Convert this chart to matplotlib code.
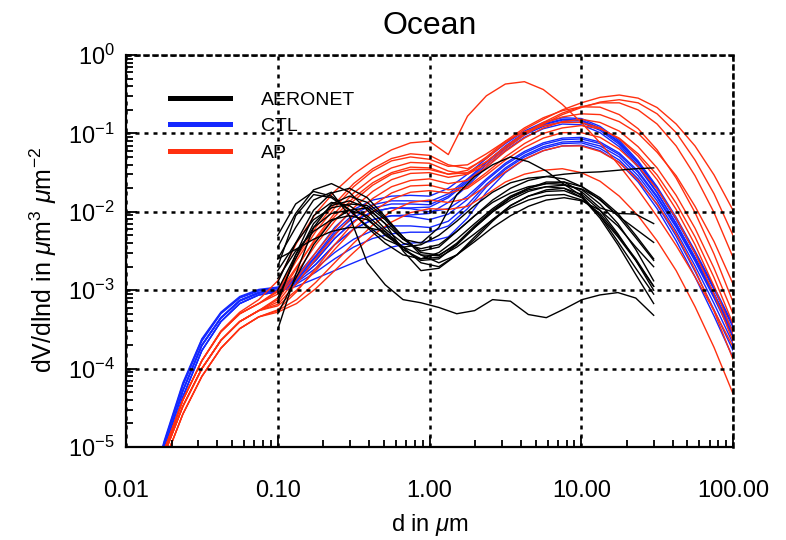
import numpy as np
import matplotlib
matplotlib.use("Agg")
import matplotlib.pyplot as plt
from matplotlib.lines import Line2D

plt.rcParams['font.family'] = ['Liberation Sans', 'DejaVu Sans']
plt.rcParams['mathtext.fontset'] = 'custom'
plt.rcParams['mathtext.rm'] = 'Liberation Sans'
plt.rcParams['mathtext.it'] = 'Liberation Sans:italic'

# model size bins: diameters in um, 1/8 decade apart
d_model = [0.01, 0.0133, 0.0178, 0.0237, 0.0316, 0.0422, 0.0562, 0.075,
           0.1, 0.133, 0.178, 0.237, 0.316, 0.422, 0.562, 0.75,
           1.0, 1.33, 1.78, 2.37, 3.16, 4.22, 5.62, 7.5,
           10.0, 13.3, 17.8, 23.7, 31.6, 42.2, 56.2, 75.0, 100.0]

# CTL run, log10(dV/dlnd) at d_model
ctl_log = [
    [-6.9, -5.85, -4.93, -4.18, -3.62, -3.28, -3.08, -2.99, -2.96, -2.82, -2.52, -2.20, -1.97, -1.85, -1.80, -1.79, -1.80,
     -1.70, -1.52, -1.32, -1.13, -0.97, -0.86, -0.80, -0.81, -0.91, -1.09, -1.35, -1.68, -2.07, -2.50, -2.96, -3.44],
    [-6.9, -5.86, -4.95, -4.20, -3.63, -3.29, -3.09, -3.00, -2.97, -2.84, -2.56, -2.25, -2.03, -1.91, -1.86, -1.86, -1.87,
     -1.77, -1.58, -1.37, -1.17, -1.00, -0.89, -0.83, -0.84, -0.94, -1.12, -1.38, -1.71, -2.10, -2.53, -2.99, -3.47],
    [-7.0, -5.95, -5.03, -4.28, -3.70, -3.35, -3.13, -3.03, -3.00, -2.86, -2.62, -2.34, -2.12, -2.00, -1.95, -1.95, -1.94,
     -1.82, -1.62, -1.40, -1.19, -1.02, -0.91, -0.85, -0.86, -0.96, -1.14, -1.41, -1.75, -2.15, -2.59, -3.06, -3.55],
    [-7.0, -5.95, -5.03, -4.28, -3.70, -3.35, -3.13, -3.03, -3.00, -2.88, -2.67, -2.42, -2.22, -2.10, -2.05, -2.04, -2.02,
     -1.88, -1.67, -1.43, -1.22, -1.05, -0.94, -0.88, -0.89, -0.99, -1.17, -1.43, -1.76, -2.15, -2.58, -3.04, -3.52],
    [-6.95, -5.9, -4.98, -4.22, -3.65, -3.30, -3.10, -3.01, -2.98, -2.85, -2.58, -2.28, -2.07, -1.95, -1.90, -1.90, -1.91,
     -1.80, -1.60, -1.37, -1.16, -0.99, -0.88, -0.82, -0.83, -0.93, -1.11, -1.37, -1.70, -2.09, -2.52, -2.98, -3.46],
    [-7.0, -5.95, -5.03, -4.28, -3.70, -3.35, -3.13, -3.03, -3.00, -2.88, -2.67, -2.42, -2.22, -2.10, -2.05, -2.06, -2.10,
     -2.03, -1.84, -1.60, -1.40, -1.25, -1.14, -1.08, -1.07, -1.13, -1.27, -1.50, -1.82, -2.20, -2.63, -3.10, -3.60],
    [-7.1, -6.05, -5.12, -4.36, -3.77, -3.40, -3.17, -3.06, -3.02, -2.90, -2.72, -2.52, -2.35, -2.24, -2.18, -2.18, -2.20,
     -2.12, -1.91, -1.65, -1.44, -1.28, -1.17, -1.11, -1.10, -1.16, -1.30, -1.54, -1.86, -2.25, -2.69, -3.17, -3.68],
    [-7.0, -5.96, -5.04, -4.29, -3.71, -3.36, -3.14, -3.04, -3.01, -2.86, -2.62, -2.34, -2.12, -2.00, -1.95, -1.96, -2.00,
     -1.96, -1.80, -1.58, -1.38, -1.23, -1.12, -1.06, -1.05, -1.11, -1.25, -1.48, -1.80, -2.18, -2.61, -3.08, -3.58],
    [-7.1, -6.05, -5.12, -4.36, -3.77, -3.40, -3.17, -3.06, -3.02, -2.92, -2.77, -2.60, -2.45, -2.34, -2.28, -2.26, -2.26,
     -2.18, -1.96, -1.68, -1.46, -1.30, -1.19, -1.13, -1.12, -1.19, -1.34, -1.58, -1.91, -2.31, -2.76, -3.25, -3.77],
    [-7.1, -6.05, -5.12, -4.36, -3.77, -3.40, -3.17, -3.06, -3.02, -2.95, -2.85, -2.75, -2.65, -2.55, -2.45, -2.40, -2.38,
     -2.32, -2.08, -1.75, -1.50, -1.33, -1.22, -1.16, -1.15, -1.22, -1.37, -1.62, -1.96, -2.37, -2.83, -3.33, -3.86],
]

# AP run, log10(dV/dlnd) at d_model
ap_log = [
    [-6.7, -5.85, -5.05, -4.40, -3.90, -3.52, -3.28, -3.12, -2.88, -2.40, -2.02, -1.74, -1.52, -1.35, -1.21, -1.12, -1.10,
     -1.27, -0.78, -0.52, -0.37, -0.34, -0.44, -0.63, -0.86, -1.12, -1.41, -1.72, -2.06, -2.43, -2.83, -3.26, -3.72],
    [-6.7, -5.85, -5.05, -4.40, -3.90, -3.53, -3.30, -3.17, -3.00, -2.58, -2.20, -1.90, -1.64, -1.45, -1.32, -1.26, -1.28,
     -1.40, -1.45, -1.32, -1.12, -0.95, -0.82, -0.70, -0.61, -0.54, -0.51, -0.55, -0.67, -0.88, -1.16, -1.53, -1.98],
    [-6.8, -5.9, -5.1, -4.48, -4.0, -3.64, -3.40, -3.26, -3.10, -2.72, -2.33, -2.02, -1.76, -1.57, -1.44, -1.37, -1.38,
     -1.48, -1.52, -1.40, -1.20, -1.02, -0.88, -0.76, -0.67, -0.60, -0.57, -0.61, -0.75, -0.99, -1.34, -1.77, -2.30],
    [-6.7, -5.85, -5.05, -4.40, -3.90, -3.53, -3.30, -3.17, -3.05, -2.70, -2.35, -2.06, -1.82, -1.63, -1.50, -1.43, -1.44,
     -1.52, -1.50, -1.36, -1.17, -1.00, -0.86, -0.74, -0.66, -0.61, -0.61, -0.70, -0.88, -1.16, -1.54, -2.01, -2.58],
    [-6.8, -5.9, -5.1, -4.48, -4.0, -3.64, -3.40, -3.26, -3.15, -2.85, -2.52, -2.22, -1.95, -1.74, -1.59, -1.51, -1.50,
     -1.56, -1.52, -1.36, -1.17, -1.00, -0.87, -0.79, -0.75, -0.76, -0.85, -1.00, -1.24, -1.54, -1.93, -2.38, -2.92],
    [-6.8, -5.9, -5.1, -4.48, -4.0, -3.64, -3.40, -3.26, -3.18, -2.92, -2.60, -2.30, -2.04, -1.83, -1.68, -1.60, -1.58,
     -1.64, -1.60, -1.43, -1.23, -1.06, -0.93, -0.85, -0.82, -0.86, -0.97, -1.17, -1.44, -1.79, -2.21, -2.72, -3.30],
    [-6.9, -6.0, -5.2, -4.58, -4.1, -3.74, -3.49, -3.34, -3.25, -3.02, -2.72, -2.42, -2.14, -1.92, -1.76, -1.67, -1.66,
     -1.72, -1.68, -1.50, -1.30, -1.13, -1.00, -0.93, -0.90, -0.94, -1.06, -1.26, -1.53, -1.89, -2.32, -2.84, -3.43],
    [-6.8, -5.9, -5.1, -4.48, -4.0, -3.64, -3.40, -3.26, -3.20, -3.00, -2.75, -2.48, -2.22, -2.00, -1.84, -1.75, -1.73,
     -1.76, -1.70, -1.53, -1.34, -1.18, -1.06, -0.99, -0.99, -1.05, -1.20, -1.42, -1.71, -2.08, -2.53, -3.05, -3.65],
    [-6.9, -6.0, -5.2, -4.58, -4.1, -3.74, -3.49, -3.34, -3.26, -3.12, -2.90, -2.65, -2.40, -2.17, -1.99, -1.88, -1.85,
     -1.88, -1.83, -1.67, -1.49, -1.33, -1.22, -1.16, -1.16, -1.23, -1.37, -1.60, -1.90, -2.28, -2.74, -3.27, -3.88],
    [-6.9, -6.0, -5.2, -4.58, -4.1, -3.74, -3.49, -3.34, -3.28, -3.17, -2.98, -2.75, -2.52, -2.30, -2.13, -2.01, -1.96,
     -1.97, -1.93, -1.78, -1.62, -1.52, -1.47, -1.45, -1.50, -1.61, -1.80, -2.05, -2.37, -2.75, -3.21, -3.73, -4.32],
    [-6.7, -5.85, -5.05, -4.40, -3.90, -3.53, -3.30, -3.17, -3.02, -2.62, -2.25, -1.95, -1.68, -1.48, -1.35, -1.30, -1.33,
     -1.42, -1.40, -1.26, -1.10, -0.98, -0.90, -0.86, -0.86, -0.93, -1.07, -1.29, -1.59, -1.97, -2.42, -2.95, -3.55],
    [-6.8, -5.9, -5.1, -4.48, -4.0, -3.64, -3.40, -3.26, -3.12, -2.78, -2.42, -2.12, -1.86, -1.66, -1.52, -1.46, -1.46,
     -1.52, -1.47, -1.30, -1.10, -0.93, -0.80, -0.71, -0.66, -0.665, -0.76, -0.94, -1.21, -1.57, -2.01, -2.54, -3.15],
]

# AERONET inversion radii (um); plotted as diameters
r_aeronet = [0.05, 0.065604, 0.086077, 0.112939, 0.148184, 0.194429, 0.255105, 0.334716,
             0.439173, 0.576227, 0.756052, 0.991996, 1.301571, 1.707757, 2.240702,
             2.939966, 3.857452, 5.061260, 6.640745, 8.713145, 11.432287, 15.0]

# AERONET retrievals, log10(dV/dlnd)
aeronet_log = [
    [-2.45, -2.02, -1.72, -1.64, -1.75, -1.98, -2.22, -2.40, -2.47, -2.42, -2.25, -2.05, -1.88, -1.76, -1.68, -1.64, -1.65, -1.72, -1.90, -2.15, -2.48, -2.88],
    [-2.90, -2.40, -1.98, -1.76, -1.70, -1.82, -2.06, -2.32, -2.52, -2.55, -2.42, -2.20, -2.00, -1.85, -1.74, -1.68, -1.66, -1.71, -1.84, -2.05, -2.33, -2.62],
    [-2.30, -1.90, -1.74, -1.80, -1.97, -2.20, -2.40, -2.55, -2.60, -2.52, -2.35, -2.15, -1.96, -1.80, -1.70, -1.64, -1.62, -1.68, -1.82, -2.02, -2.30, -2.60],
    [-3.10, -2.60, -2.15, -1.92, -1.86, -1.95, -2.15, -2.35, -2.40, -2.20, -1.78, -1.55, -1.40, -1.30, -1.36, -1.48, -1.65, -1.80, -2.05, -2.32, -2.62, -2.95],
    [-2.75, -2.40, -2.10, -1.95, -1.90, -1.92, -2.10, -2.35, -2.50, -2.45, -2.25, -2.05, -1.85, -1.70, -1.60, -1.55, -1.52, -1.50, -1.49, -1.47, -1.45, -1.44],
    [-3.00, -2.55, -2.20, -2.02, -1.98, -2.05, -2.25, -2.48, -2.62, -2.60, -2.42, -2.20, -2.00, -1.82, -1.70, -1.62, -1.62, -1.75, -1.95, -2.02, -2.03, -2.15],
    [-3.50, -2.80, -2.20, -1.90, -1.80, -1.88, -2.08, -2.32, -2.55, -2.65, -2.55, -2.35, -2.12, -1.92, -1.80, -1.72, -1.70, -1.78, -1.98, -2.28, -2.62, -3.00],
    [-3.30, -2.85, -2.42, -2.12, -1.98, -1.95, -2.15, -2.50, -2.75, -2.72, -2.55, -2.32, -2.10, -1.92, -1.80, -1.74, -1.73, -1.82, -2.05, -2.38, -2.72, -3.05],
    [-2.85, -2.50, -2.25, -2.10, -2.05, -2.10, -2.28, -2.48, -2.60, -2.58, -2.45, -2.28, -2.10, -1.95, -1.85, -1.79, -1.78, -1.85, -2.02, -2.30, -2.60, -2.95],
    [-2.60, -2.48, -2.35, -2.25, -2.20, -2.20, -2.25, -2.45, -2.65, -2.70, -2.55, -2.38, -2.20, -2.05, -1.93, -1.85, -1.82, -1.86, -1.98, -2.18, -2.45, -2.70],
    [-2.70, -2.05, -1.78, -1.82, -1.98, -2.18, -2.35, -2.45, -2.42, -2.30, -2.12, -1.92, -1.75, -1.63, -1.57, -1.55, -1.58, -1.68, -1.85, -2.05, -2.22, -2.39],
    [-3.15, -2.55, -2.05, -1.88, -1.92, -2.08, -2.30, -2.45, -2.55, -2.56, -2.40, -2.18, -1.98, -1.82, -1.72, -1.68, -1.70, -1.82, -2.08, -2.42, -2.80, -3.17],
    [-2.60, -2.20, -1.85, -1.75, -2.05, -2.65, -2.93, -3.12, -3.16, -3.22, -3.30, -3.26, -3.12, -3.14, -3.31, -3.35, -3.24, -3.12, -3.06, -3.03, -3.10, -3.32],
]

legend_labels = ['AERONET', 'CTL', 'AP']
x_ticks = [0.01, 0.1, 1.0, 10.0, 100.0]
x_tick_labels = ['0.01', '0.10', '1.00', '10.00', '100.00']
y_ticks = [1e-5, 1e-4, 1e-3, 1e-2, 1e-1, 1e0]
y_tick_labels = [r'$10^{-5}$', r'$10^{-4}$', r'$10^{-3}$', r'$10^{-2}$', r'$10^{-1}$', r'$10^{0}$']

BLUE = '#1428ff'
RED = '#ff3010'
dots = (0, (1.6, 2.0))

fig = plt.figure(figsize=(7.86, 5.40), dpi=100)
ax = fig.add_axes([0.1603, 0.1722, 0.7723, 0.7259])

d_aeronet = 2.0 * np.array(r_aeronet)
for v in ctl_log:
    ax.plot(d_model, 10.0 ** np.array(v), color=BLUE, lw=1.0)
for v in ap_log:
    ax.plot(d_model, 10.0 ** np.array(v), color=RED, lw=1.0)
for v in aeronet_log:
    ax.plot(d_aeronet, 10.0 ** np.array(v), color='black', lw=1.0)

ax.set_xscale('log')
ax.set_yscale('log')
ax.set_xlim(0.01, 100)
ax.set_ylim(1e-5, 1)
ax.set_xticks(x_ticks, x_tick_labels)
ax.set_yticks(y_ticks, y_tick_labels)
ax.tick_params(which='both', direction='in', top=False, right=False, width=1.3, labelsize=17)
ax.tick_params(which='major', length=8)
ax.tick_params(which='minor', length=5)
ax.tick_params(axis='x', pad=24)
ax.tick_params(axis='y', pad=8)

ax.set_axisbelow(False)
ax.grid(True, which='major', color='black', linestyle=dots, linewidth=1.8)
for s in ['left', 'bottom']:
    ax.spines[s].set_linewidth(1.6)
for s in ['top', 'right']:
    ax.spines[s].set_linestyle(dots)
    ax.spines[s].set_linewidth(1.8)

ax.set_title('Ocean', fontsize=23, pad=15)
ax.set_xlabel(r'd in $\mu$m', fontsize=17)
ax.xaxis.set_label_coords(0.5, -0.165)
ax.set_ylabel(r'dV/dlnd in $\mu$m$^3$ $\mu$m$^{-2}$', fontsize=18)
ax.yaxis.set_label_coords(-0.11, 0.477)

handles = [Line2D([], [], color=c, lw=3.6) for c in ['black', BLUE, RED]]
ax.legend(handles, legend_labels, loc='upper left', bbox_to_anchor=(0.0725, 0.9075),
          frameon=False, fontsize=14, handlelength=3.1, handletextpad=1.6,
          labelspacing=0.45, borderpad=0, borderaxespad=0)

fig.savefig('out.png', dpi=100)
